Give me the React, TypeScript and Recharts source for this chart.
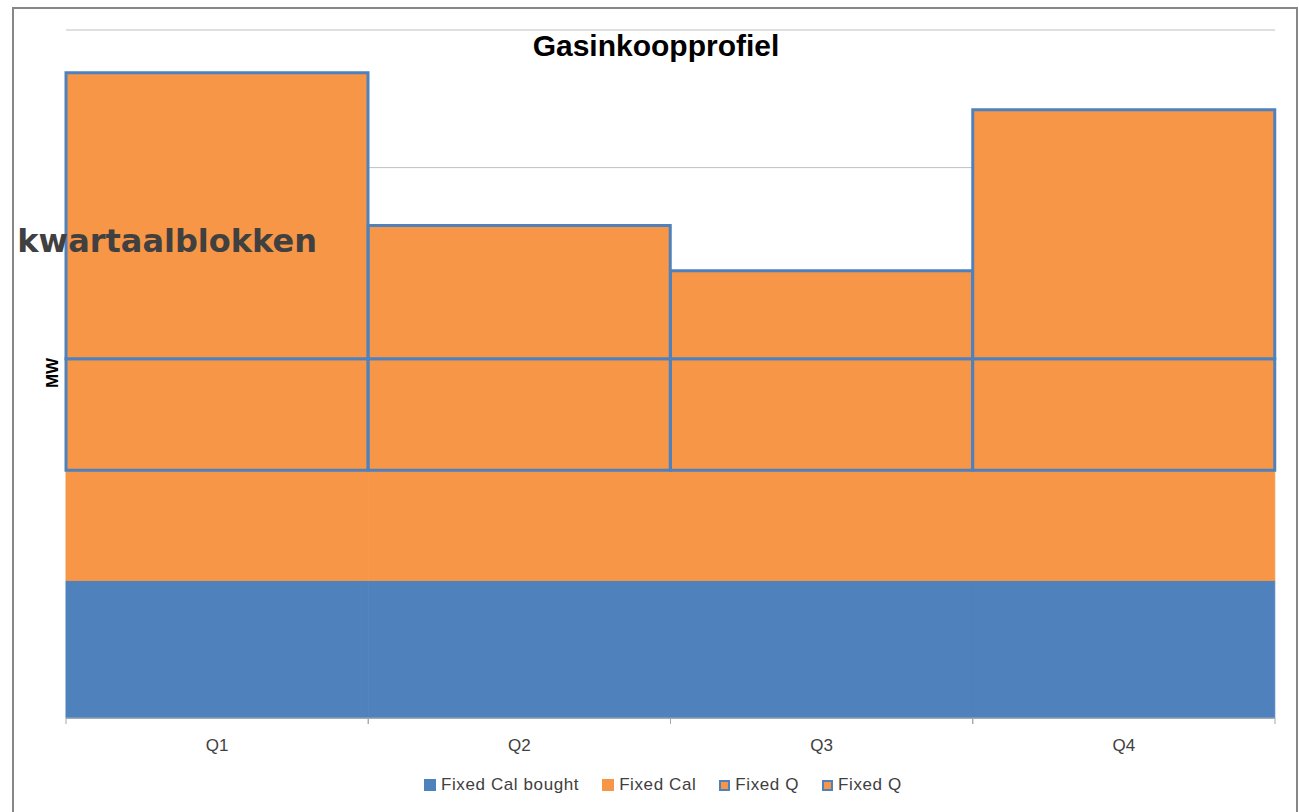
import React from "react";
import { BarChart, Bar, XAxis, YAxis, CartesianGrid } from "recharts";

const quarters = ["Q1", "Q2", "Q3", "Q4"];
const fixedCalBought = [1.0, 1.0, 1.0, 1.0];
const fixedCal = [0.8, 0.8, 0.8, 0.8];
const fixedQBase = [0.81, 0.81, 0.81, 0.81];
const fixedQExtra = [2.08, 0.97, 0.64, 1.81];
const yTicks = [0, 1, 2, 3, 4, 5];

const BLUE = "#4f81bd";
const ORANGE = "#f79646";

const data = quarters.map((q, i) => ({
  q,
  bought: fixedCalBought[i],
  cal: fixedCal[i],
  qa: fixedQBase[i],
  qb: fixedQExtra[i],
}));

const legendItems = [
  { label: "Fixed Cal bought", fill: BLUE, border: false },
  { label: "Fixed Cal", fill: ORANGE, border: false },
  { label: "Fixed Q", fill: ORANGE, border: true },
  { label: "Fixed Q", fill: ORANGE, border: true },
];

const QuarterTick = (props: any) => {
  const { x, y, payload, width } = props;
  const band = width / quarters.length;
  const top = y - 8;
  return (
    <g>
      <line x1={x - band / 2} x2={x - band / 2} y1={top} y2={top + 6} stroke="#a6a6a6" />
      <line x1={x + band / 2} x2={x + band / 2} y1={top} y2={top + 6} stroke="#a6a6a6" />
      <text x={x} y={top + 33} textAnchor="middle" fontSize={17} fill="#404040"
        fontFamily="Liberation Sans, Arial, sans-serif">
        {payload.value}
      </text>
    </g>
  );
};

export default function App() {
  return (
    <div style={{ position: "absolute", left: 0, top: 0, width: 1299, height: 812, overflow: "hidden", background: "#fff" }}>
      <BarChart width={1299} height={812} data={data} barCategoryGap={0}
        margin={{ top: 30, right: 24, left: 66, bottom: 64 }}>
        <CartesianGrid vertical={false} stroke="#c0c0c0" />
        <YAxis hide domain={[0, 5]} ticks={yTicks} />
        <XAxis dataKey="q" height={30} stroke="#a6a6a6" tickLine={false} tick={<QuarterTick />} />
        <Bar dataKey="bought" stackId="a" fill={BLUE} stroke={BLUE} strokeWidth={1} isAnimationActive={false} />
        <Bar dataKey="cal" stackId="a" fill={ORANGE} stroke={ORANGE} strokeWidth={1} isAnimationActive={false} />
        <Bar dataKey="qa" stackId="a" fill={ORANGE} stroke={BLUE} strokeWidth={3} isAnimationActive={false} />
        <Bar dataKey="qb" stackId="a" fill={ORANGE} stroke={BLUE} strokeWidth={3} isAnimationActive={false} />
      </BarChart>

      <svg width={1299} height={812} style={{ position: "absolute", left: 0, top: 0, pointerEvents: "none" }}>
        <rect x={13} y={8} width={1284} height={830} fill="none" stroke="#878787" strokeWidth={2} />
        <text x={656} y={56} textAnchor="middle" fontSize={30} fontWeight="bold" fill="#000"
          fontFamily="Liberation Sans, Arial, sans-serif">Gasinkoopprofiel</text>
        <text transform="translate(58,373) rotate(-90)" textAnchor="middle" fontSize={17} fontWeight="bold"
          fill="#000" fontFamily="Liberation Sans, Arial, sans-serif">MW</text>
        <text x={317} y={252} textAnchor="end" fontSize={32} fontWeight="bold" fill="#404040"
          fontFamily="DejaVu Sans, sans-serif">kwartaalblokken</text>
      </svg>

      <div style={{ position: "absolute", left: 424, top: 775, display: "flex", alignItems: "center",
        fontFamily: "Liberation Sans, Arial, sans-serif", fontSize: 17, letterSpacing: 0.6, color: "#404040" }}>
        {legendItems.map((it, i) => (
          <div key={i} style={{ display: "flex", alignItems: "center", marginRight: 23 }}>
            <span style={{ display: "inline-block", width: it.border ? 7 : 12, height: it.border ? 7 : 12,
              background: it.fill, border: it.border ? `2.5px solid ${BLUE}` : "none", marginRight: 5 }} />
            <span>{it.label}</span>
          </div>
        ))}
      </div>
    </div>
  );
}
